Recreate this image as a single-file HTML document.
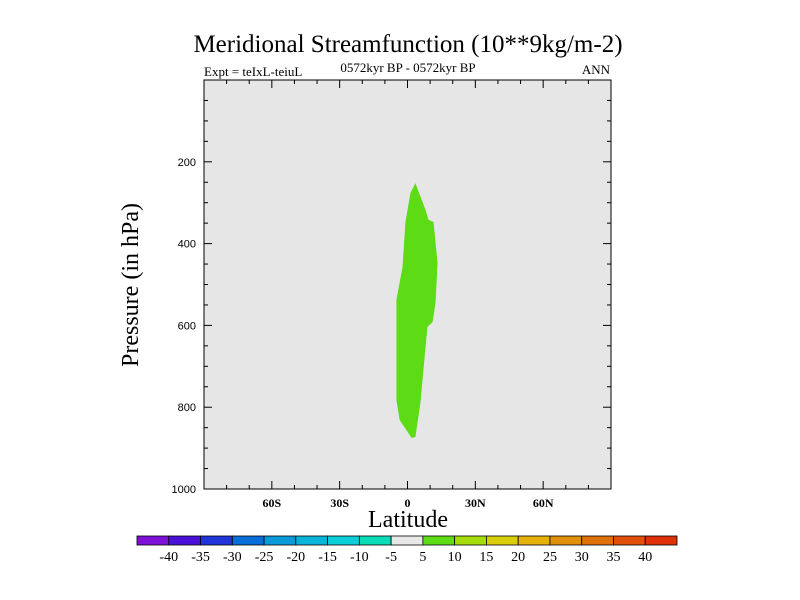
<!DOCTYPE html>
<html><head><meta charset="utf-8"><style>
body{margin:0;background:#fff}
svg{display:block}
</style></head><body>
<svg id="chart" width="800" height="600" xmlns="http://www.w3.org/2000/svg">
<text x="408" y="52" text-anchor="middle" font-family="Liberation Serif, serif" font-size="25">Meridional Streamfunction (10**9kg/m-2)</text>
<text x="204" y="76" font-family="Liberation Serif, serif" font-size="13">Expt = teIxL-teiuL</text>
<text x="408" y="72" text-anchor="middle" font-family="Liberation Serif, serif" font-size="13">0572kyr BP - 0572kyr BP</text>
<text x="610" y="74" text-anchor="end" font-family="Liberation Serif, serif" font-size="13">ANN</text>
<rect x="204" y="80" width="407" height="409" fill="#e6e6e6"/>
<g id="marks"></g>
<rect x="204" y="80" width="407" height="409" fill="none" stroke="#000" stroke-width="1"/>
<g id="axes"></g>
<text x="408" y="527" text-anchor="middle" font-family="Liberation Serif, serif" font-size="24">Latitude</text>
<text transform="translate(138,285) rotate(-90)" text-anchor="middle" font-family="Liberation Serif, serif" font-size="24">Pressure (in hPa)</text>
<g id="colorbar"></g>
</svg>
<script>
const latMin=-90, latMax=90, pMin=0, pMax=1000;
const polyLat=[3.5,1.3,-0.9,-2.2,-4.9,-4.9,-3.5,1.8,3.5,5.7,8.8,11.1,12.4,13.3,11.5,9.3,8.0];
const polyP=[252,276,347,457,538,782,831,875,873,790,604,592,545,447,347,342,318];
const xTickVals=[-60,-30,0,30,60];
const xTickLabels=["60S","30S","0","30N","60N"];
const yTickVals=[200,400,600,800,1000];
const cbLevels=[-40,-35,-30,-25,-20,-15,-10,-5,5,10,15,20,25,30,35,40];
const cbColors=["#7f10d8","#4a10d8","#2034d8","#0a6ed8","#0a9ad8","#0ab4d8","#0acfd8","#0adcb8","#e8e8e8","#5ddc16","#a6dc0a","#d8cf0a","#e6b10a","#e0900a","#e0700a","#e0500a","#e0300a"];
const X=v=>204+(v-latMin)/(latMax-latMin)*407;
const Y=v=>80+(v-pMin)/(pMax-pMin)*409;
const NS="http://www.w3.org/2000/svg";
function mk(t,a,parent){const e=document.createElementNS(NS,t);for(const k in a)e.setAttribute(k,a[k]);parent.appendChild(e);return e;}
const marks=document.getElementById('marks');
const poly=mk('polygon',{points:polyLat.map((l,i)=>X(l)+','+Y(polyP[i])).join(' '),fill:'#5ddc16'},marks);


const ax=document.getElementById('axes');
for(let v=-80;v<=80;v+=10){const major=v%30===0;const len=major?8:4;
 const t1=mk('line',{x1:X(v),x2:X(v),y1:489,y2:489-len,stroke:'#000'},ax);
 
 const t2=mk('line',{x1:X(v),x2:X(v),y1:80,y2:80+len,stroke:'#000'},ax);
 }
for(let v=50;v<1000;v+=50){const major=v%200===0;const len=major?8:4;
 const t1=mk('line',{x1:204,x2:204+len,y1:Y(v),y2:Y(v),stroke:'#000'},ax);
 
 const t2=mk('line',{x1:611,x2:611-len,y1:Y(v),y2:Y(v),stroke:'#000'},ax);
 }
xTickVals.forEach((v,i)=>{const t=mk('text',{x:X(v),y:507,'text-anchor':'middle','font-family':'Liberation Serif, serif','font-size':'12','font-weight':'bold'},ax);t.textContent=xTickLabels[i];
 });
yTickVals.forEach(v=>{const t=mk('text',{x:196,y:Y(v)+4,'text-anchor':'end','font-family':'Liberation Sans, sans-serif','font-size':'11'},ax);t.textContent=v;
 });
const cb=document.getElementById('colorbar');
const bw=540/cbColors.length;
cbColors.forEach((c,i)=>{const r=mk('rect',{x:137+i*bw,y:536,width:bw,height:9,fill:c,stroke:'#000','stroke-width':'0.8'},cb);
 });
cbLevels.forEach((v,i)=>{const t=mk('text',{x:137+(i+1)*bw,y:561,'text-anchor':'middle','font-family':'Liberation Serif, serif','font-size':'14'},cb);t.textContent=v;
 });
</script>
</body></html>
